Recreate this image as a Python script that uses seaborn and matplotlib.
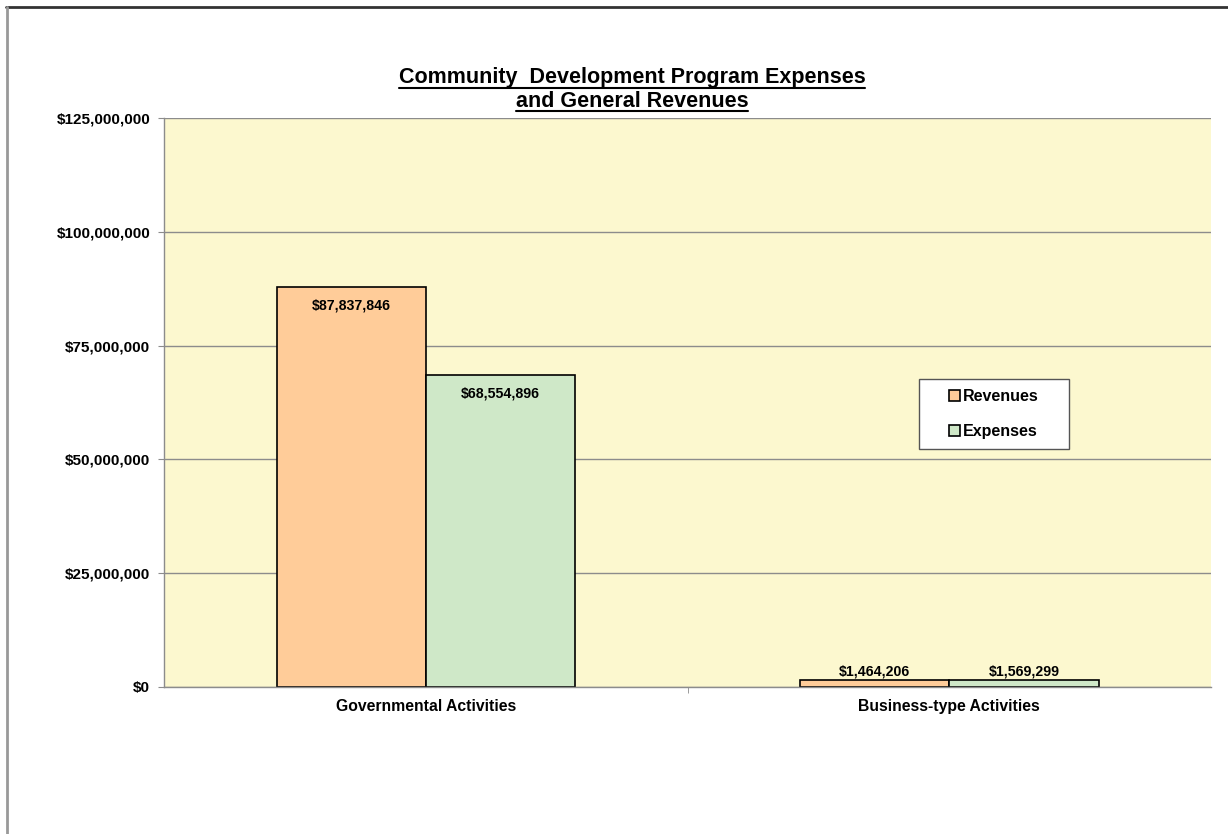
import numpy as np
import pandas as pd
import matplotlib
matplotlib.use("Agg")
import matplotlib.pyplot as plt
import seaborn as sns
from matplotlib.ticker import FuncFormatter, MultipleLocator
from matplotlib.lines import Line2D
from matplotlib.patches import Rectangle

# values
activities = ["Governmental Activities", "Business-type Activities"]
revenues = [87837846, 1464206]
expenses = [68554896, 1569299]
series = ["Revenues", "Expenses"]
colors = ["#FFCC99", "#CFE8C8"]

df = pd.DataFrame({
    "activity": activities * 2,
    "amount": revenues + expenses,
    "type": [series[0]] * 2 + [series[1]] * 2,
})

sns.set_style("white")
plt.rcParams["font.family"] = ["Liberation Sans", "DejaVu Sans"]
plt.rcParams["text.color"] = "black"
plt.rcParams["xtick.labelcolor"] = "black"
plt.rcParams["ytick.labelcolor"] = "black"

fig = plt.figure(figsize=(12.28, 8.34), dpi=100)
ax = fig.add_axes([0.1336, 0.1763, 0.8526, 0.6822])
ax.set_facecolor("#FCF8CF")

sns.barplot(data=df, x="activity", y="amount", hue="type", palette=colors,
            saturation=1, width=0.57, edgecolor="black", linewidth=1.2,
            ax=ax, legend=True)

ax.set_xlim(-0.5, 1.5)
ax.set_ylim(0, 125000000)
ax.yaxis.set_major_locator(MultipleLocator(25000000))
ax.yaxis.set_major_formatter(FuncFormatter(lambda v, p: "$" + format(int(v), ",")))
ax.grid(axis="y", color="#8c8c8c", linewidth=1)
ax.set_axisbelow(True)
ax.set_xlabel("")
ax.set_ylabel("")

for s in ["top", "right"]:
    ax.spines[s].set_visible(False)
for s in ["left", "bottom"]:
    ax.spines[s].set_color("#8c8c8c")
    ax.spines[s].set_linewidth(1)

ax.tick_params(axis="y", which="major", left=True, length=4, color="#8c8c8c", direction="out", pad=6)
ax.tick_params(axis="x", bottom=False, pad=5)
# separator tick between the categories
ax.set_xticks([0.5], minor=True)
ax.tick_params(axis="x", which="minor", bottom=True, length=4, color="#8c8c8c", direction="out")
for lbl in ax.get_yticklabels():
    lbl.set_fontweight("bold")
    lbl.set_fontsize(11)
for lbl in ax.get_xticklabels():
    lbl.set_fontweight("bold")
    lbl.set_fontsize(11.3)

# data labels
for container in ax.containers:
    for bar in container:
        h = bar.get_height()
        xc = bar.get_x() + bar.get_width() / 2
        if h > 20000000:
            ax.annotate("$" + format(int(h), ","), (xc, h), xytext=(0, -8),
                        textcoords="offset points", ha="center", va="top",
                        fontsize=10.2, fontweight="bold")
        else:
            ax.annotate("$" + format(int(h), ","), (xc, h), xytext=(0, 1),
                        textcoords="offset points", ha="center", va="bottom",
                        fontsize=10.2, fontweight="bold")

# legend box drawn by hand, legend itself frameless inside it
ax.add_patch(Rectangle((0.721, 0.418), 0.143, 0.123, transform=ax.transAxes,
                       facecolor="white", edgecolor="#555555", linewidth=1, zorder=4))
leg = ax.legend(loc="center", bbox_to_anchor=(0.7925, 0.4795), frameon=False,
                handlelength=0.7, handleheight=0.7, handletextpad=0.2,
                labelspacing=1.25, borderpad=0, borderaxespad=0,
                prop={"weight": "bold", "size": 11.5})
leg.set_zorder(5)

# title with underline
t1 = fig.text(0.5147, 0.9, "Community  Development Program Expenses", ha="center",
              va="baseline", fontsize=15.5, fontweight="bold")
t2 = fig.text(0.5147, 0.872, "and General Revenues", ha="center",
              va="baseline", fontsize=15.5, fontweight="bold")
fig.canvas.draw()
r = fig.canvas.get_renderer()
for t in [t1, t2]:
    bb = t.get_window_extent(r).transformed(fig.transFigure.inverted())
    y = t.get_position()[1] - 0.005
    fig.add_artist(Line2D([bb.x0, bb.x1], [y, y], color="black", linewidth=1.5,
                          transform=fig.transFigure))

# chart area border
fig.add_artist(Line2D([0.005, 1.0], [0.9916, 0.9916], color="#333333", linewidth=2,
                      transform=fig.transFigure))
fig.add_artist(Line2D([0.0057, 0.0057], [0.0, 0.9916], color="#999999", linewidth=2,
                      transform=fig.transFigure))

fig.savefig("out.png", dpi=100)
